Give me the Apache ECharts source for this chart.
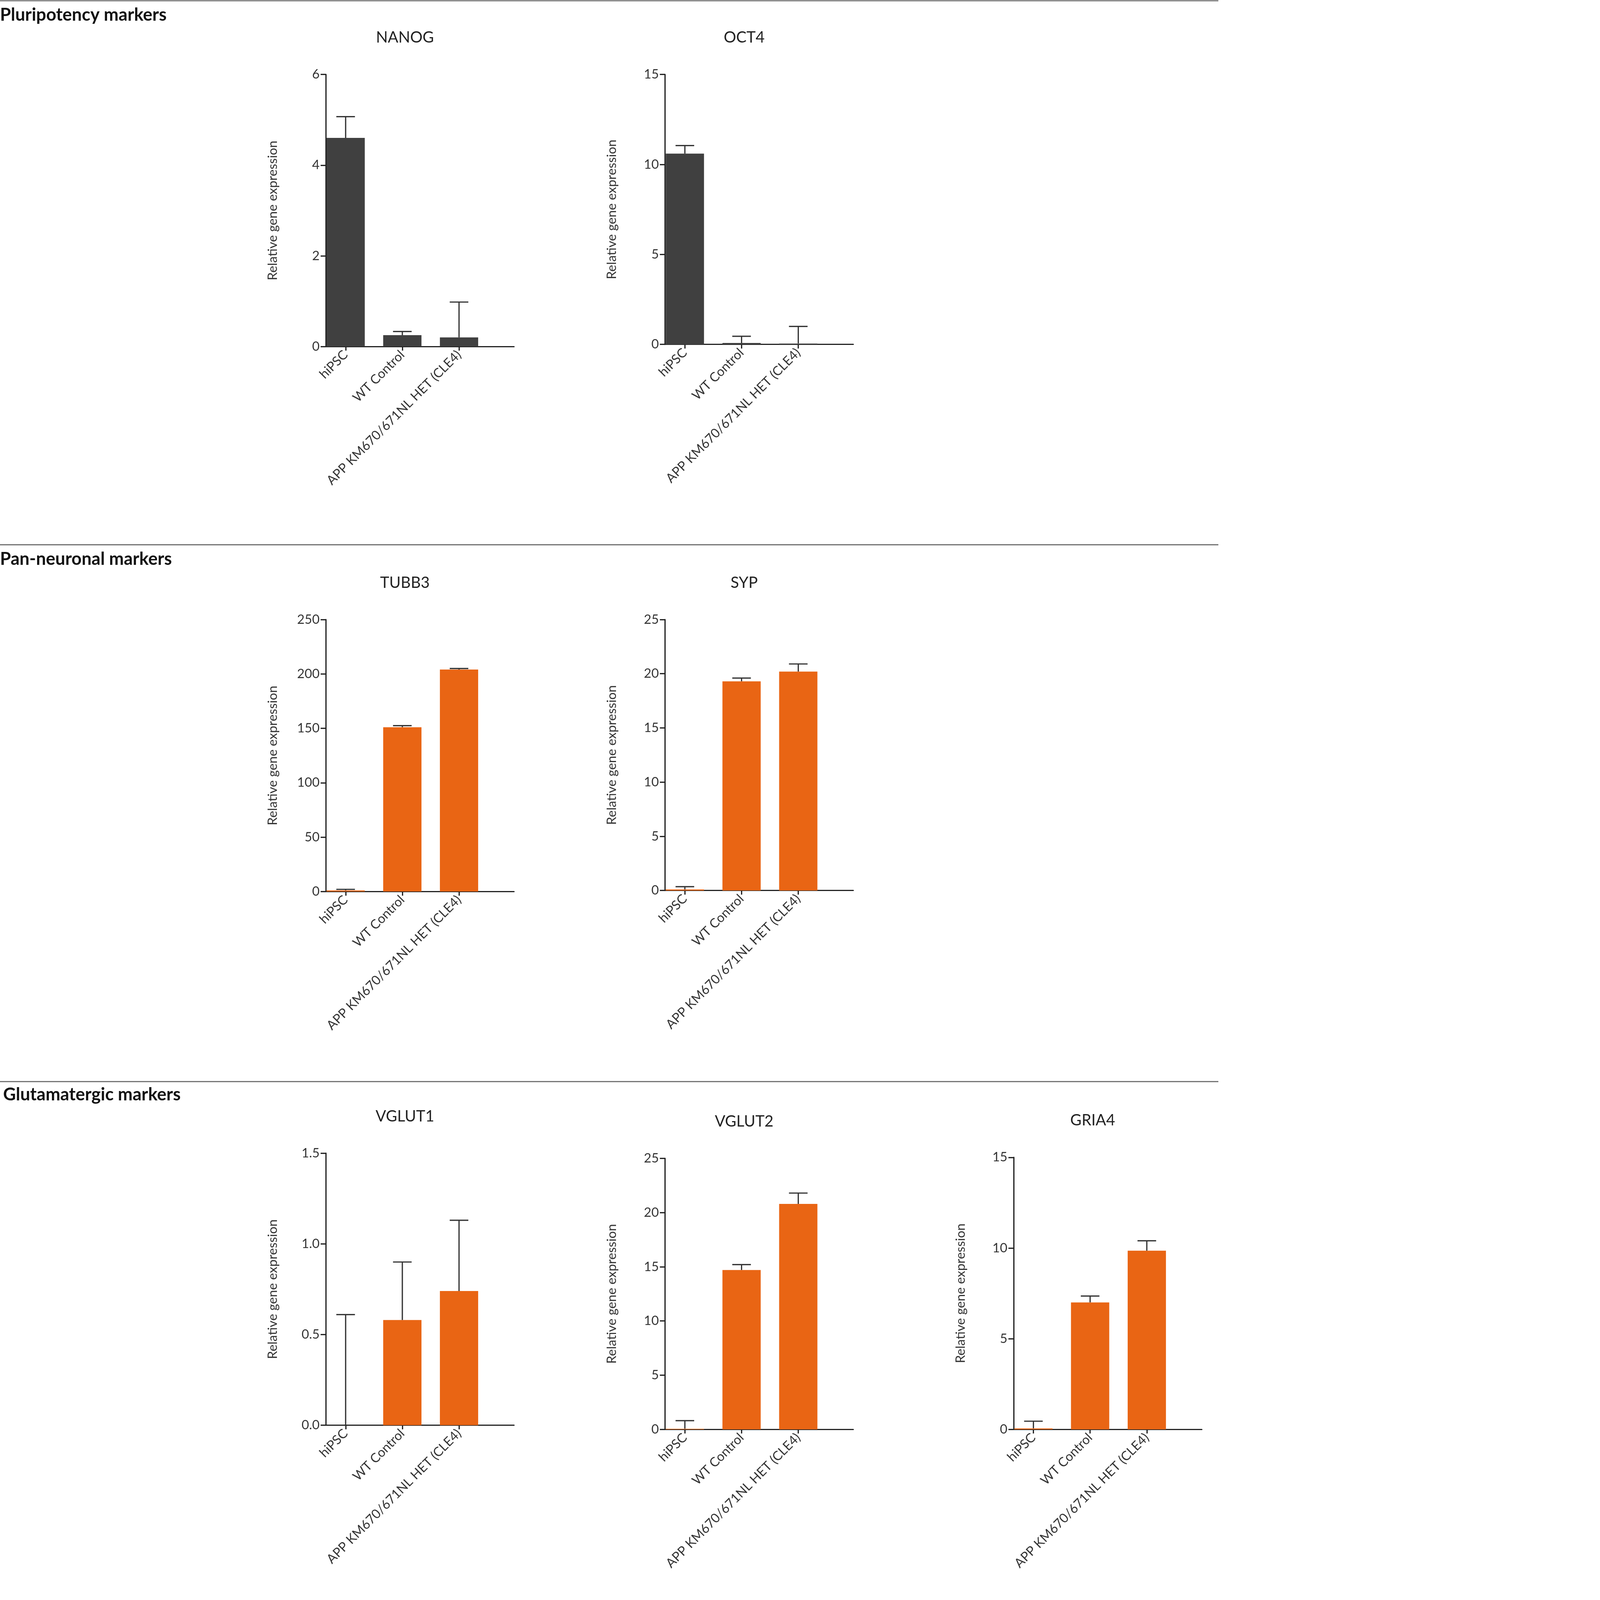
<!DOCTYPE html>
<html>
<head>
<meta charset="utf-8">
<script src="https://cdn.jsdelivr.net/npm/echarts@6/dist/echarts.min.js"></script>
<style>
  html, body { margin: 0; padding: 0; background: #fff; overflow: hidden; }
  #main { width: 5702px; height: 7288px; }
</style>
</head>
<body>
<div id="main"></div>
<script>
// data
const categories = ['hiPSC', 'WT Control', 'APP KM670/671NL HET (CLE4)'];
const nanog = [4.6, 0.25, 0.2];
const nanogErr = [5.07, 0.33, 0.98];
const oct4 = [10.6, 0.08, 0.05];
const oct4Err = [11.05, 0.45, 1.0];
const tubb3 = [1, 151, 204];
const tubb3Err = [2, 152.5, 205];
const syp = [0.1, 19.3, 20.2];
const sypErr = [0.35, 19.6, 20.9];
const vglut1 = [0, 0.58, 0.74];
const vglut1Err = [0.61, 0.9, 1.13];
const vglut2 = [0.05, 14.7, 20.8];
const vglut2Err = [0.8, 15.2, 21.8];
const gria4 = [0.05, 7.0, 9.85];
const gria4Err = [0.45, 7.35, 10.4];

// size to the actual window so the whole page is in view
const el = document.getElementById('main');
const vw = window.innerWidth || 5702, vh = window.innerHeight || 7288;
const s = Math.min(vw / 1210, vh / 1547);
el.style.width = vw + 'px';
el.style.height = vh + 'px';

const DARK = '#404040', ORANGE = '#e96514';
const FONT = 'Lato, "Open Sans", sans-serif';

// panel layout in reference display pixels
const panels = [
  { name: 'NANOG', v: nanog, e: nanogErr, max: 6, step: 2, color: DARK, x: 315, top: 72, bottom: 335, fmt: v => v },
  { name: 'OCT4', v: oct4, e: oct4Err, max: 15, step: 5, color: DARK, x: 643, top: 72, bottom: 333, fmt: v => v },
  { name: 'TUBB3', v: tubb3, e: tubb3Err, max: 250, step: 50, color: ORANGE, x: 315, top: 599, bottom: 862, fmt: v => v },
  { name: 'SYP', v: syp, e: sypErr, max: 25, step: 5, color: ORANGE, x: 643, top: 599, bottom: 861, fmt: v => v },
  { name: 'VGLUT1', v: vglut1, e: vglut1Err, max: 1.5, step: 0.5, color: ORANGE, x: 315, top: 1115, bottom: 1378, fmt: v => v.toFixed(1) },
  { name: 'VGLUT2', v: vglut2, e: vglut2Err, max: 25, step: 5, color: ORANGE, x: 643, top: 1120, bottom: 1382, fmt: v => v },
  { name: 'GRIA4', v: gria4, e: gria4Err, max: 15, step: 5, color: ORANGE, x: 980, top: 1119, bottom: 1382, fmt: v => v }
];
const sections = [
  { text: 'Pluripotency markers', y: 0, ty: 6, tx: 0 },
  { text: 'Pan-neuronal markers', y: 526, ty: 532, tx: 0 },
  { text: 'Glutamatergic markers', y: 1045, ty: 1050, tx: 3 }
];

const grid = [], xAxis = [], yAxis = [], series = [], title = [], graphic = [];
const W = 182;
panels.forEach((p, i) => {
  grid.push({ left: p.x * s, top: p.top * s, width: W * s, height: (p.bottom - p.top) * s });
  title.push({
    text: p.name, left: (p.x + W * 0.41) * s, top: (p.top - 45) * s, textAlign: 'center',
    textStyle: { fontFamily: FONT, fontWeight: 'normal', fontSize: 15 * s, color: '#222' }
  });
  xAxis.push({
    type: 'value', gridIndex: i, min: -0.35, max: 2.97,
    splitLine: { show: false },
    axisLine: { onZero: false, lineStyle: { color: '#222', width: 1.2 * s } },
    axisTick: { customValues: [0, 1, 2], length: 4 * s, lineStyle: { color: '#222', width: 1.2 * s } },
    axisLabel: {
      customValues: [0, 1, 2], rotate: 45, fontFamily: FONT, fontSize: 12.5 * s, color: '#333', margin: 6 * s,
      formatter: v => categories[Math.round(v)]
    }
  });
  yAxis.push({
    type: 'value', gridIndex: i, min: 0, max: p.max, interval: p.step,
    name: 'Relative gene expression', nameLocation: 'middle', nameGap: 45 * s,
    nameTextStyle: { fontFamily: FONT, fontSize: 12.5 * s, color: '#333' },
    splitLine: { show: false },
    axisLine: { show: true, onZero: false, lineStyle: { color: '#222', width: 1.2 * s } },
    axisTick: { show: true, length: 5 * s, lineStyle: { color: '#222', width: 1.2 * s } },
    axisLabel: { fontFamily: FONT, fontSize: 12.5 * s, color: '#333', margin: 6 * s, formatter: p.fmt }
  });
  series.push({
    type: 'bar', xAxisIndex: i, yAxisIndex: i, barWidth: 37 * s,
    data: p.v.map((v, k) => [k, v]), itemStyle: { color: p.color }
  });
  series.push({
    type: 'custom', xAxisIndex: i, yAxisIndex: i, z: 1,
    data: p.v.map((v, k) => [k, v, p.e[k]]),
    renderItem: (params, api) => {
      const a = api.coord([api.value(0), api.value(1)]);
      const b = api.coord([api.value(0), api.value(2)]);
      const c = 9 * s;
      const st = { stroke: '#333', lineWidth: 1.2 * s };
      return { type: 'group', children: [
        { type: 'line', shape: { x1: a[0], y1: a[1], x2: b[0], y2: b[1] }, style: st },
        { type: 'line', shape: { x1: b[0] - c, y1: b[1], x2: b[0] + c, y2: b[1] }, style: st }
      ] };
    }
  });
});
sections.forEach(sec => {
  graphic.push({ type: 'line', shape: { x1: 0, y1: sec.y * s + 2, x2: 1178 * s, y2: sec.y * s + 2 }, style: { stroke: '#666', lineWidth: 1 * s } });
  graphic.push({ type: 'text', left: sec.tx * s, top: sec.ty * s,
    style: { text: sec.text, font: 'bold ' + (17 * s) + 'px ' + FONT, fill: '#111' } });
});

const chart = echarts.init(el);
chart.setOption({
  animation: false, backgroundColor: '#fff',
  title, grid, xAxis, yAxis, series, graphic
});
</script>
</body>
</html>
